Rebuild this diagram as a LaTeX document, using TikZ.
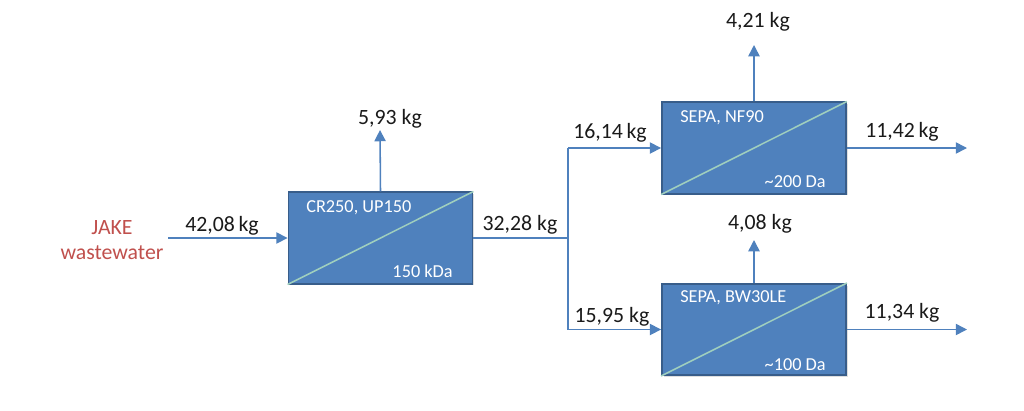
\documentclass[tikz,border=0pt]{standalone}
\usepackage{fontspec}
\setmainfont{Carlito}
\usetikzlibrary{arrows.meta,shadows}
\definecolor{memfill}{HTML}{4F81BD}
\definecolor{memdraw}{HTML}{385D8A}
\definecolor{memline}{HTML}{9FCFBE}
\definecolor{flow}{HTML}{4F81BD}
\definecolor{feedred}{HTML}{C0504D}
\definecolor{txt}{HTML}{1A1A1A}
\begin{document}
\begin{tikzpicture}[x=0.025cm,y=-0.025cm]
	\tikzset{mb/.style={draw=memdraw, fill=memfill, line width=1.3pt, minimum width=4.6cm, minimum height=2.28cm, inner sep=0pt,
			drop shadow={opacity=0.25, shadow xshift=1.2pt, shadow yshift=-1.2pt}},
		fl/.style={draw=flow, line width=1.1pt},
		ar/.style={fl, -{Triangle[width=8pt,length=8pt]}},
		kg/.style={font=\fontsize{15.5}{18}\selectfont, text=txt, inner sep=0pt},
		ml/.style={font=\fontsize{13}{15}\selectfont, text=white, inner sep=0pt}};

	\useasboundingbox (0,0) rectangle (1024,410);

	% membranes
	\node[mb] (m1) at (380.5,238) {};
	\node[mb] (m2) at (754,148) {};
	\node[mb] (m3) at (754,329.5) {};
	\draw[memline, line width=1.1pt] (m1.south west) to (m1.north east);
	\draw[memline, line width=1.1pt] (m2.south west) to (m2.north east);
	\draw[memline, line width=1.1pt] (m3.south west) to (m3.north east);

	\node[ml, anchor=base west] (n1) at (306,212) {CR250, UP150};
	\node[ml, anchor=base east] (c1) at (453,277) {150 kDa};
	\node[ml, anchor=base west] (n2) at (680,122) {SEPA, NF90};
	\node[ml, anchor=base east] (c2) at (826,187) {\textasciitilde200 Da};
	\node[ml, anchor=base west] (n3) at (680,302) {SEPA, BW30LE};
	\node[ml, anchor=base east] (c3) at (826,370) {\textasciitilde100 Da};

	% feed
	\node[font=\fontsize{15.5}{18}\selectfont, text=feedred, align=center] (feed) at (112,240) {JAKE\\wastewater};
	\coordinate (in) at (168,238);
	\draw[ar] (in) to (m1.west);
	\node[kg, anchor=base] (k0) at (222,231) {42,08\,kg};

	% permeate of m1 and split
	\coordinate (j) at (568,238);
	\coordinate (j2) at (568,148);
	\coordinate (j3) at (568,329.5);
	\draw[fl] (m1.east) to (j);
	\draw[fl] (j2) to (j3);
	\draw[ar] (j2) to (m2.west);
	\draw[ar] (j3) to (m3.west);
	\node[kg, anchor=base] (k1) at (520,230) {32,28 kg};
	\node[kg, anchor=base] (k2) at (610,138) {16,14\,kg};
	\node[kg, anchor=base] (k3) at (612,322) {15,95 kg};

	% retentates
	\coordinate (t1) at (380,130);
	\coordinate (t2) at (754,45);
	\coordinate (t3) at (754,240);
	\draw[ar] (m1.north) to (t1);
	\draw[ar] (m2.north) to (t2);
	\draw[ar] (m3.north) to (t3);
	\node[kg, anchor=base] (r1) at (390,124) {5,93 kg};
	\node[kg, anchor=base] (r2) at (758,27) {4,21 kg};
	\node[kg, anchor=base] (r3) at (760,229) {4,08 kg};

	% outlets
	\coordinate (o2) at (967,148);
	\coordinate (o3) at (967,329.5);
	\draw[ar] (m2.east) to (o2);
	\draw[ar] (m3.east) to (o3);
	\node[kg, anchor=base] (p2) at (902,137) {11,42\,kg};
	\node[kg, anchor=base] (p3) at (902,318) {11,34 kg};

\end{tikzpicture}
\end{document}
